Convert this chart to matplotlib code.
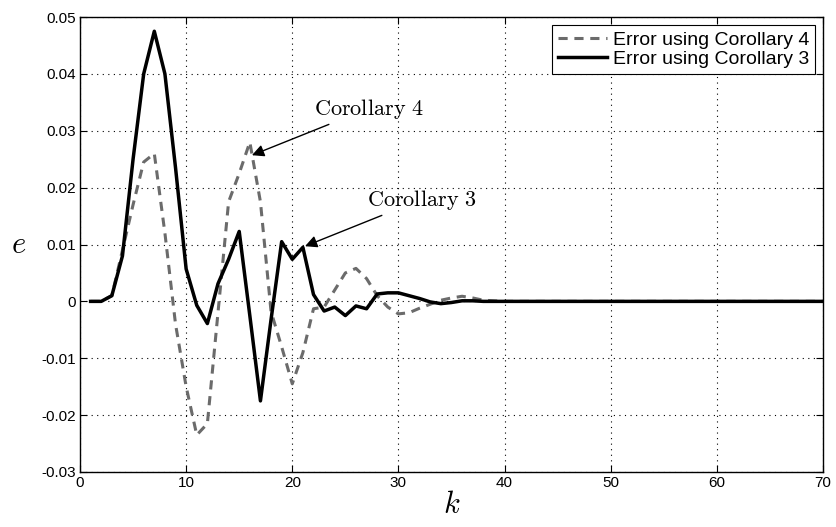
import numpy as np
import matplotlib.pyplot as plt

plt.rcParams['mathtext.fontset'] = 'cm'
plt.rcParams['font.family'] = ['Liberation Sans', 'DejaVu Sans']

# error sequences
k = np.arange(1, 71)

err_c4_head = [0.0, 0.0, 0.001, 0.009, 0.017, 0.0245, 0.026, 0.012, -0.004, -0.015,
               -0.0235, -0.0215, -0.002, 0.0175, 0.0225, 0.028, 0.0175, -0.0018, -0.008, -0.0145,
               -0.009, -0.0013, -0.001, 0.002, 0.005, 0.0058, 0.004, 0.001, -0.001, -0.0022,
               -0.002, -0.0012, -0.0005, 0.0002, 0.0006, 0.0009, 0.0006, 0.0002, 0.0001, 0.0]
err_c3_head = [0.0, 0.0, 0.001, 0.008, 0.025, 0.040, 0.0475, 0.040, 0.0235, 0.0057,
               -0.0007, -0.0039, 0.0031, 0.0074, 0.0123, -0.0025, -0.0175, -0.0032, 0.0105, 0.0074,
               0.0095, 0.0012, -0.0017, -0.001, -0.0025, -0.0008, -0.0013, 0.0013, 0.0015, 0.0015,
               0.001, 0.0005, -0.0001, -0.0004, -0.0002, 0.0001, 0.0001, 0.0, 0.0, 0.0]
err_c4 = err_c4_head + [0.0] * (len(k) - len(err_c4_head))
err_c3 = err_c3_head + [0.0] * (len(k) - len(err_c3_head))

yticks = [-0.03, -0.02, -0.01, 0, 0.01, 0.02, 0.03, 0.04, 0.05]
ytick_labels = ['-0.03', '-0.02', '-0.01', '0', '0.01', '0.02', '0.03', '0.04', '0.05']

fig = plt.figure(figsize=(8.36, 5.27), dpi=100)
ax = fig.add_axes([0.0957, 0.1044, 0.8887, 0.8633])

ax.plot(k, err_c4, linestyle='--', color='0.42', linewidth=2.2, dashes=(3, 2.2),
        label='Error using Corollary 4')
ax.plot(k, err_c3, color='black', linewidth=2.5, label='Error using Corollary 3')

ax.set_xlim(0, 70)
ax.set_ylim(-0.03, 0.05)
ax.set_xticks(range(0, 71, 10))
ax.set_yticks(yticks)
ax.set_yticklabels(ytick_labels)
ax.tick_params(direction='in', top=True, right=True, labelsize=11, length=5, pad=3)
ax.grid(True, linestyle=(0, (1, 4)), color='black', linewidth=0.8)
for s in ax.spines.values():
    s.set_linewidth(1.0)

ax.set_xlabel('$k$', fontsize=22, labelpad=0)
ax.set_ylabel('$e$', fontsize=22, rotation=0, va='center', ha='center')
ax.yaxis.set_label_coords(-0.083, 0.5)

ax.annotate(r'$\mathrm{Corollary\ 4}$', xy=(16.2, 0.0257), xytext=(22, 0.0339),
            fontsize=16, va='center', ha='left',
            arrowprops=dict(arrowstyle='-|>', color='black', lw=1.0, mutation_scale=18,
                            shrinkA=2, shrinkB=0))
ax.annotate(r'$\mathrm{Corollary\ 3}$', xy=(21.2, 0.0097), xytext=(27, 0.0179),
            fontsize=16, va='center', ha='left',
            arrowprops=dict(arrowstyle='-|>', color='black', lw=1.0, mutation_scale=18,
                            shrinkA=2, shrinkB=0))

leg = ax.legend(loc='upper right', fontsize=14, fancybox=False, framealpha=1,
                edgecolor='black', borderaxespad=0.42, handlelength=2.5,
                handletextpad=0.3, borderpad=0.3, labelspacing=0.1)
leg.get_frame().set_linewidth(0.8)

fig.savefig('out.png', dpi=100)
